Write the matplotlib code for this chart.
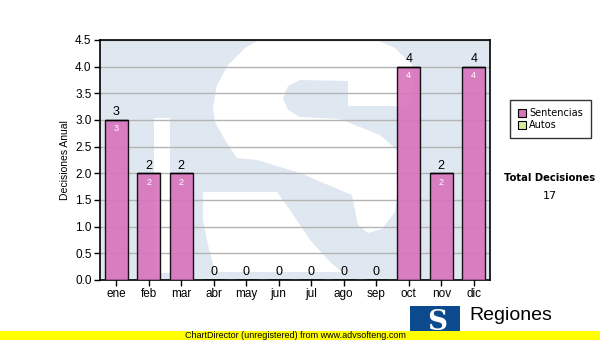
import numpy as np
import matplotlib.pyplot as plt
from matplotlib.patches import Rectangle, Polygon, Patch

meses = ['ene', 'feb', 'mar', 'abr', 'may', 'jun', 'jul', 'ago', 'sep', 'oct', 'nov', 'dic']
sentencias = [3, 2, 2, 0, 0, 0, 0, 0, 0, 4, 2, 4]
autos = [0, 0, 0, 0, 0, 0, 0, 0, 0, 0, 0, 0]
y_ticks = [0.0, 0.5, 1.0, 1.5, 2.0, 2.5, 3.0, 3.5, 4.0, 4.5]

pink = '#d873bb'
green = '#d4ec9c'
wm_blue = '#dfe8f0'

plt.rcParams['font.family'] = ['Liberation Sans', 'DejaVu Sans']

fig = plt.figure(figsize=(6, 3.4), dpi=100)
ax = fig.add_axes([100/600, 60/340, 390/600, 240/340])
ax.set_facecolor(wm_blue)


def wm(pts):
    # watermark outline given in pixel positions of the plot box -> axes fraction
    return [((px - 100) / 390, (280 - py) / 240) for px, py in pts]


# faint logo watermark (white shapes on light blue)
stem = [(154, 118), (170, 118), (170, 273), (154, 273)]
upper = [(213, 108), (217, 85), (228, 65), (245, 48), (262, 38), (372, 38), (395, 48),
         (412, 65), (415, 90), (405, 106), (348, 106), (348, 81), (300, 80), (288, 86),
         (283, 98), (288, 110), (300, 117), (340, 119), (380, 135), (397, 150),
         (400, 175), (395, 212), (382, 229), (368, 233), (358, 225), (352, 195),
         (340, 190), (300, 173), (257, 160), (237, 158), (225, 140), (215, 122)]
lower = [(203, 192), (277, 192), (290, 210), (310, 240), (330, 262), (342, 272),
         (215, 272), (208, 245), (203, 220)]
for shape in (stem, upper, lower):
    ax.add_patch(Polygon(wm(shape), closed=True, transform=ax.transAxes,
                         facecolor='white', edgecolor='none', zorder=0))

x = np.arange(len(meses))
totals = np.array(sentencias) + np.array(autos)
ax.bar(x, sentencias, width=0.7, color=pink, alpha=0.9, edgecolor='black', linewidth=1, zorder=3)
ax.bar(x, autos, width=0.7, bottom=sentencias, color=green, edgecolor='black', linewidth=1, zorder=3)

for xi, v in zip(x, totals):
    ax.text(xi, v + 0.03, str(v), ha='center', va='bottom', fontsize=9, color='black', zorder=4)
for xi, v in zip(x, sentencias):
    if v > 0:
        ax.text(xi, v - 0.08, str(v), ha='center', va='top', fontsize=6.5, color='white', zorder=4)

ax.set_xlim(-0.5, len(meses) - 0.5)
ax.set_ylim(0, 4.5)
ax.set_yticks(y_ticks)
ax.set_yticklabels([f'{t:.1f}' for t in y_ticks], fontsize=8.5)
ax.set_xticks(x)
ax.set_xticklabels(meses, fontsize=8.5)
ax.tick_params(axis='both', length=4, width=1, color='black', pad=2)
ax.yaxis.grid(True, color='#b4b4b4', linewidth=1, zorder=1)
ax.set_axisbelow(True)
for sp in ax.spines.values():
    sp.set_linewidth(1.2)
ax.set_ylabel('Decisiones Anual', fontsize=7.5, labelpad=4)

# legend
handles = [Patch(facecolor=pink, edgecolor='black', linewidth=0.8, label='Sentencias'),
           Patch(facecolor=green, edgecolor='black', linewidth=0.8, label='Autos')]
leg = fig.legend(handles=handles, loc='upper left', bbox_to_anchor=(510/600, 1 - 100/340),
                 frameon=True, fancybox=False, edgecolor='black',
                 handlelength=0.8, handleheight=0.8, handletextpad=0.3,
                 labelspacing=0.2, borderpad=0.85, borderaxespad=0,
                 prop={'family': 'DejaVu Sans', 'size': 7})
leg.get_frame().set_linewidth(1)

fig.text(550/600, 1 - 178/340, 'Total Decisiones', ha='center', va='center',
         fontsize=7.2, fontweight='bold', family='DejaVu Sans')
fig.text(550/600, 1 - 196/340, str(int(totals.sum())), ha='center', va='center',
         fontsize=8, family='DejaVu Sans')

# logo
fig.patches.append(Rectangle((410/600, 0), 50/600, 34/340, transform=fig.transFigure,
                             facecolor='#0b4a8e', edgecolor='none', zorder=1))
fig.text(437/600, 1 - 322/340, 'S', ha='center', va='center', fontsize=20,
         fontweight='bold', family='DejaVu Serif', color='white', zorder=2)
fig.text(469/600, 1 - 316/340, 'Regiones', ha='left', va='center', fontsize=14, zorder=2)
fig.text(469/600, 1 - 334/340, 'Tribunal Supremo de Justicia', ha='left', va='center',
         fontsize=6, zorder=2)

# ChartDirector bar
fig.patches.append(Rectangle((0, 0), 1, 9/340, transform=fig.transFigure,
                             facecolor='#ffff00', edgecolor='none', zorder=5))
fig.text(295/600, 4.5/340, 'ChartDirector (unregistered) from www.advsofteng.com',
         ha='center', va='center', fontsize=6.5, zorder=6)

fig.savefig('out.png', dpi=100)
